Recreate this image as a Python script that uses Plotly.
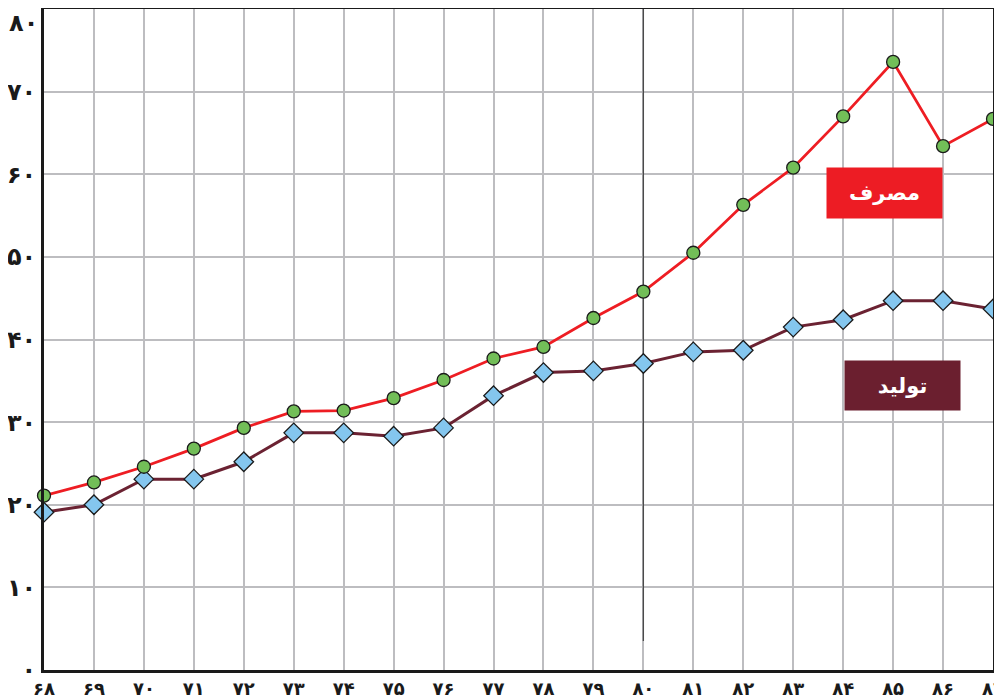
import plotly.graph_objects as go

years = list(range(68, 88))
fa_digits = str.maketrans("0123456789", "۰۱۲۳۴۵۶۷۸۹")
x_labels = [str(y).translate(fa_digits) for y in years]

consumption = [21.1, 22.7, 24.6, 26.8, 29.3, 31.3, 31.4, 32.9, 35.1, 37.7,
               39.1, 42.6, 45.8, 50.5, 56.3, 60.8, 67.0, 73.6, 63.4, 66.7]
production = [19.1, 20.0, 23.1, 23.1, 25.2, 28.7, 28.7, 28.3, 29.3, 33.2,
              36.0, 36.2, 37.1, 38.5, 38.7, 41.5, 42.4, 44.7, 44.7, 43.7]

y_ticks = list(range(0, 81, 10))
y_labels = [str(v).translate(fa_digits) for v in y_ticks]

label_consumption = "مصرف"
label_production = "تولید"

TICK_FONT_Y = dict(size=24, family="DejaVu Sans", color="#1a1a1a", weight="bold")

fig = go.Figure()

fig.add_trace(go.Scatter(
    x=years, y=production, mode="lines+markers", cliponaxis=False,
    line=dict(color="#6B2232", width=3),
    marker=dict(symbol="diamond", size=15, color="#84C6EE",
                line=dict(color="#1a1a1a", width=1.3)),
    showlegend=False, name=label_production))

fig.add_trace(go.Scatter(
    x=years, y=consumption, mode="lines+markers", cliponaxis=False,
    line=dict(color="#EE1D23", width=2.8),
    marker=dict(symbol="circle", size=13, color="#72BE58",
                line=dict(color="#1a1a1a", width=1.3)),
    showlegend=False, name=label_consumption))

# darker reference line at year 80
fig.add_shape(type="line", xref="x", yref="y", x0=80, x1=80, y0=3.5, y1=80,
              line=dict(color="#4a4a4a", width=1.3), layer="between")

fig.add_annotation(x=84.83, y=57.7, xref="x", yref="y", text="<b>" + label_consumption + "</b>",
                   showarrow=False, bgcolor="#ED1C24", width=113, height=48,
                   font=dict(family="DejaVu Sans", size=21, color="white"))
fig.add_annotation(x=85.19, y=34.4, xref="x", yref="y", text="<b>" + label_production + "</b>",
                   showarrow=False, bgcolor="#6B1F2F", width=113, height=47,
                   font=dict(family="DejaVu Sans", size=21, color="white"))

# top y tick label placed just below its gridline so it is not cut at the page edge
y_tick_text = y_labels[:-1] + [""]
fig.add_annotation(x=0, xref="paper", y=y_ticks[-1], yref="y", text=y_labels[-1],
                   showarrow=False, xanchor="right", yanchor="top", xshift=-4, yshift=2,
                   font=TICK_FONT_Y)

# page body has an 8px margin, so the figure is sized to fill the rest of the window
fig.update_layout(
    width=994, height=692,
    margin=dict(l=36, r=9, t=1, b=30, pad=0),
    paper_bgcolor="white", plot_bgcolor="white",
    font=dict(family="DejaVu Sans", color="#1a1a1a"),
    xaxis=dict(range=[68, 87], tickmode="array", tickvals=years, ticktext=x_labels,
               showgrid=True, gridcolor="#BDBDC0", gridwidth=1.6,
               showline=True, linecolor="#1a1a1a", linewidth=3, mirror=True,
               ticks="", ticklabelstandoff=0, ticklabeloverflow="allow",
               tickfont=dict(size=18, family="DejaVu Sans", color="#1a1a1a", weight="bold"),
               zeroline=False, automargin=False),
    yaxis=dict(range=[0, 80], tickmode="array", tickvals=y_ticks, ticktext=y_tick_text,
               showgrid=True, gridcolor="#BDBDC0", gridwidth=1.6,
               showline=True, linecolor="#1a1a1a", linewidth=3, mirror=True,
               ticks="", tickfont=TICK_FONT_Y, ticklabeloverflow="allow",
               zeroline=False, automargin=False),
)

fig.write_html("out.html")
